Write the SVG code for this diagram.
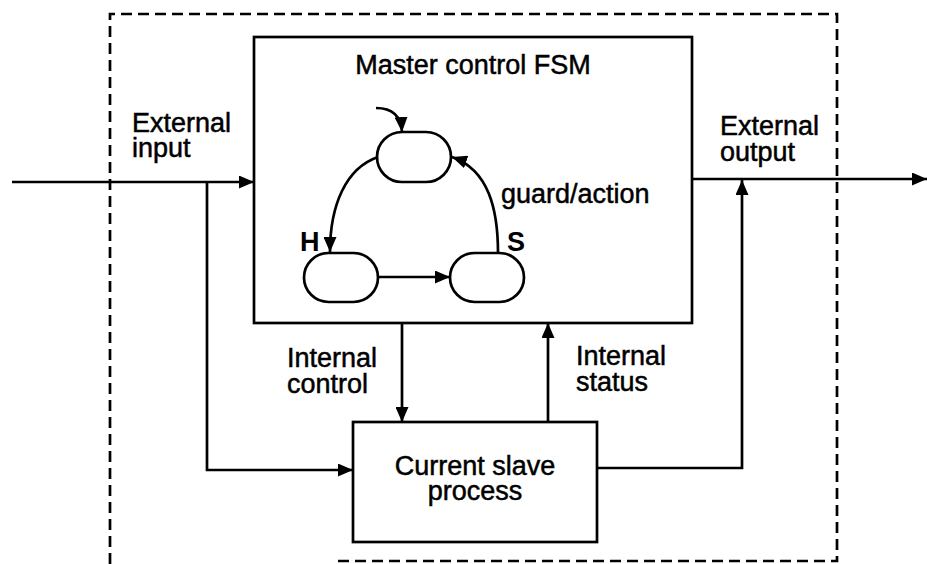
<svg xmlns="http://www.w3.org/2000/svg" width="927" height="564" viewBox="0 0 927 564">
  <defs>
    <marker id="arrow" viewBox="0 0 15 13" refX="15" refY="6.5" markerWidth="15" markerHeight="13" markerUnits="userSpaceOnUse" orient="auto">
      <path d="M0,0 L15,6.5 L0,13 Z" fill="#000"/>
    </marker>
    <style>
      .box { fill: #fff; stroke: #000; stroke-width: 2.7; }
      .state { fill: #fff; stroke: #000; stroke-width: 2.7; }
      .wire { fill: none; stroke: #000; stroke-width: 2.7; }
      .arr { marker-end: url(#arrow); }
      .boundary { fill: none; stroke: #000; stroke-width: 2.7; stroke-dasharray: 11 6; }
      text { font-family: "Liberation Sans", Arial, Helvetica, sans-serif; font-size: 27px; fill: #000; stroke: #000; stroke-width: 0.5; }
      .bold { font-weight: bold; stroke-width: 0; }
      .mid { text-anchor: middle; }
    </style>
  </defs>
  <rect width="927" height="564" fill="#fff"/>

  <!-- system boundary -->
  <g id="boundary">
    <path class="boundary" d="M110,564 L110,14 L837,14 L837,561 L335,561"/>
  </g>

  <!-- master controller -->
  <g id="master">
    <rect class="box" x="254" y="37" width="438" height="286"/>
    <text class="mid" x="473" y="74">Master control FSM</text>
  </g>

  <!-- FSM states -->
  <g id="state-top">
    <rect class="state" x="377" y="132" width="74" height="50" rx="25"/>
  </g>
  <g id="state-h">
    <rect class="state" x="304" y="253" width="74" height="49" rx="24.5"/>
    <text class="bold" x="300" y="251">H</text>
  </g>
  <g id="state-s">
    <rect class="state" x="450" y="253" width="74" height="49" rx="24.5"/>
    <text class="bold" x="507" y="251">S</text>
  </g>

  <!-- slave process -->
  <g id="slave">
    <rect class="box" x="353" y="422" width="244" height="120"/>
    <text class="mid" x="475" y="475">Current slave</text>
    <text class="mid" x="475" y="500">process</text>
  </g>

  <!-- connectors -->
  <g id="connectors">
    <!-- FSM transitions -->
    <path class="wire arr" d="M376,108 C392,108 401,116 402,132"/>
    <path class="wire arr" d="M378,157 C346,168 330,205 330,252"/>
    <path class="wire arr" d="M378,277 L450,277"/>
    <path class="wire arr" d="M498,253 C498,210 489,170 452,157"/>
    <text x="501" y="203">guard/action</text>

    <!-- external input -->
    <path class="wire arr" d="M12,182 L254,182"/>
    <path class="wire arr" d="M207,182 L207,470 L353,470"/>
    <text x="132" y="132">External</text>
    <text x="132" y="157">input</text>

    <!-- internal control / status -->
    <path class="wire arr" d="M402,323 L402,422"/>
    <text x="287" y="367">Internal</text>
    <text x="287" y="393">control</text>
    <path class="wire arr" d="M548,422 L548,323"/>
    <text x="576" y="365">Internal</text>
    <text x="576" y="391">status</text>

    <!-- external output -->
    <path class="wire arr" d="M692,179 L927,179"/>
    <path class="wire arr" d="M597,468 L742,468 L742,180"/>
    <text x="720" y="135">External</text>
    <text x="720" y="161">output</text>
  </g>
</svg>
